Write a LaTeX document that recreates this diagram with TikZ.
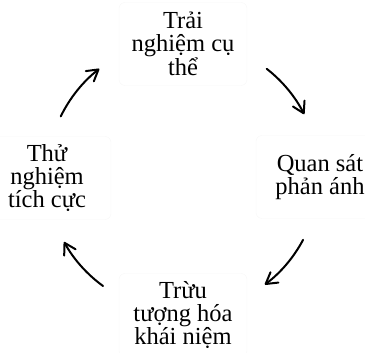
\documentclass[tikz,border=0pt]{standalone}
\usepackage{fontspec}
\setmainfont{Liberation Serif}
\usetikzlibrary{arrows.meta}

\begin{document}
\begin{tikzpicture}[x=1pt,y=1pt,
    stage/.style={align=center,rounded corners=6pt,draw=black!3,fill=white,
        minimum width=128pt,minimum height=83pt,
        font=\fontsize{24.5}{22.8}\selectfont},
    cyc/.style={line width=2pt,line cap=round,
        -{Straight Barb[length=11pt,width=13pt,line cap=round,line join=round]}}]
    \useasboundingbox (0,0) rectangle (365,353);
    \coordinate (c) at (183,177);
    \node[stage] (exp) at (183,309) {Trải\\nghiệm cụ\\thể};
    \node[stage] (obs) at (320,176) {Quan sát\\phản ánh};
    \node[stage] (abs) at (183,38) {Trừu\\tượng hóa\\khái niệm};
    \node[stage] (act) at (47,175) {Thử\\nghiệm\\tích cực};
    \foreach \s/\e in {52/27,-28/-53,-126/-151,154/128} {
        \draw[cyc] (c) ++(\s:136) arc[start angle=\s,end angle=\e,radius=136];
    }
\end{tikzpicture}
\end{document}
